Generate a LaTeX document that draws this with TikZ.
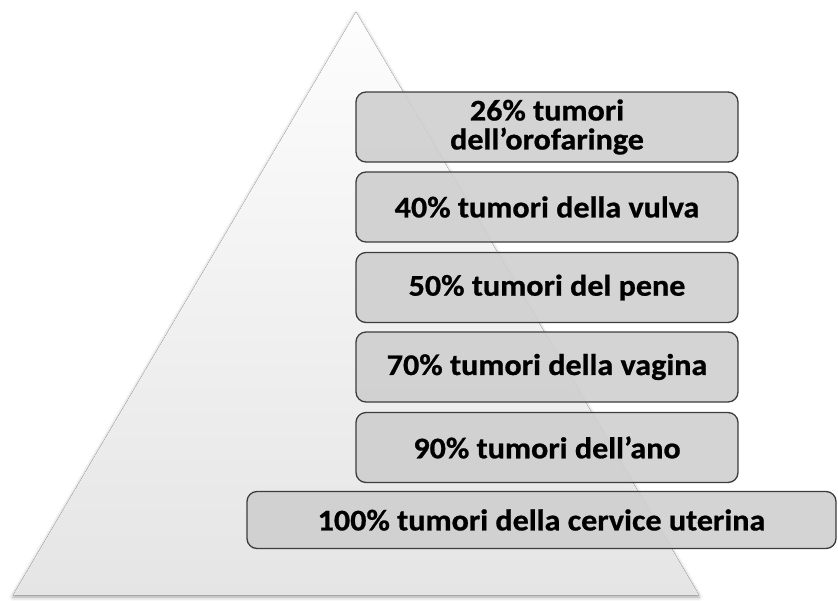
\documentclass[tikz,border=0pt]{standalone}
\usepackage{fontspec}
\setmainfont{Carlito}[FakeStretch=1.07, BoldFeatures={FakeBold=0.8}]
\usetikzlibrary{shadows.blur}

\definecolor{pyrtop}{RGB}{253,253,253}
\definecolor{pyrbot}{RGB}{229,229,229}
\definecolor{boxfill}{RGB}{207,207,207}
\definecolor{boxline}{RGB}{60,60,60}

\begin{document}
\begin{tikzpicture}[
  x=1pt, y=-1pt,
  font=\fontsize{30}{29}\selectfont\bfseries,
  tier/.style={draw=boxline, line width=1.3pt, fill=boxfill, fill opacity=0.9, text opacity=1,
               rounded corners=10pt, minimum width=382pt, minimum height=70pt,
               inner sep=0pt, align=center},
  widetier/.style={tier, minimum width=589pt, minimum height=57pt},
  pyr/.style={top color=pyrtop, bottom color=pyrbot,
              blur shadow={shadow xshift=0pt, shadow yshift=-2pt,
                           shadow blur radius=4pt, shadow opacity=40}},
]
\useasboundingbox (0,0) rectangle (838,600);

% --- pyramid ---
\coordinate (apex)  at (356,12);
\coordinate (baseL) at (13,595);
\coordinate (baseR) at (699,595);
\fill[pyr] (apex) -- (baseR) -- (baseL) -- cycle;

% --- tiers, top to bottom ---
\node[tier]     (oro)     at (547,127)   {26\% tumori\\dell’orofaringe};
\node[tier]     (vulva)   at (547,207)   {40\% tumori della vulva};
\node[tier]     (pene)    at (547,287.5) {50\% tumori del pene};
\node[tier]     (vagina)  at (547,367)   {70\% tumori della vagina};
\node[tier]     (ano)     at (547,447.5) {90\% tumori dell’ano};
\node[widetier] (cervice) at (541.5,520) {100\% tumori della cervice uterina};

\end{tikzpicture}
\end{document}
